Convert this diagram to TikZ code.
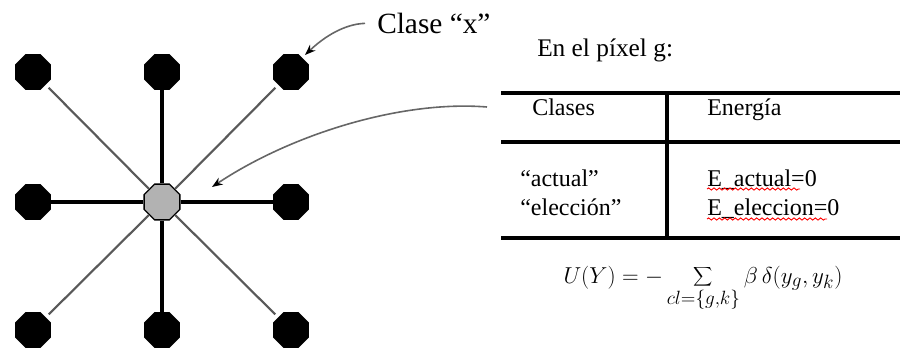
\documentclass[tikz,border=0pt]{standalone}
\usepackage{fontspec}
\setmainfont{Liberation Serif}
\usetikzlibrary{shapes.geometric,decorations.pathmorphing,arrows.meta}

\begin{document}
\begin{tikzpicture}[x=0.75pt,y=-0.75pt,
	site/.style={regular polygon, regular polygon sides=8, fill=black, inner sep=0pt, minimum size=29pt},
	link/.style={line width=2.4pt},
	diag/.style={line width=1.6pt, draw=black!65, shorten >=3pt},
	pointer/.style={line width=1.2pt, draw=black!60, -{Stealth[length=8pt,width=6pt,black]}},
	rule/.style={line width=2.4pt},
	txt/.style={anchor=base west, inner sep=0pt},
	squig/.style={red, decorate, decoration={snake, amplitude=0.8pt, segment length=4pt}, line width=0.7pt}]
	\useasboundingbox (0,0) rectangle (901,350);
	% neighbourhood of the pixel
	\node[site] (n11) at (33,72){};
	\node[site] (n12) at (162,72){};
	\node[site] (n13) at (291,72){};
	\node[site] (n21) at (33,202){};
	\node[site, fill=black!30, draw=black, line width=1pt] (c) at (162,202){};
	\node[site] (n23) at (291,202){};
	\node[site] (n31) at (33,330){};
	\node[site] (n32) at (162,330){};
	\node[site] (n33) at (291,330){};
	\draw[link] (c) -- (n12);
	\draw[link] (c) -- (n32);
	\draw[link] (c) -- (n21);
	\draw[link] (c) -- (n23);
	\draw[diag] (c) -- (n11);
	\draw[diag] (c) -- (n13);
	\draw[diag] (c) -- (n31);
	\draw[diag] (c) -- (n33);
	% labels and arrows
	\node[txt, font=\fontsize{22}{26}\selectfont] (clase) at (377,33){Clase ``x''};
	\coordinate (tipx) at (305,55);
	\draw[pointer, shorten <=9pt] (clase.west) .. controls (345,24) and (325,36) .. (tipx);
	\coordinate (src) at (487,107);
	\coordinate (tipg) at (212,187);
	\draw[pointer] (src) .. controls (400,100) and (290,135) .. (tipg);
	\node[txt, font=\fontsize{19}{22}\selectfont] (title) at (537,56){En el píxel g:};
	% table
	\draw[rule] (501,93) -- (900,93);
	\draw[rule] (501,142) -- (900,142);
	\draw[rule] (501,238) -- (900,238);
	\draw[rule] (667,93) -- (667,238);
	\begin{scope}[every node/.style={txt, font=\fontsize{18}{22}\selectfont}]
		\node (hclases) at (532,115){Clases};
		\node (henergia) at (707,115){Energía};
		\node (actual) at (520,186){``actual''};
		\node (eleccion) at (520,215){``elección''};
		\node (eactual) at (707,186){E\_actual=0};
		\node (eeleccion) at (707,215){E\_eleccion=0};
	\end{scope}
	\draw[squig] (707,189) -- (800,189);
	\draw[squig] (707,219) -- (827,219);
	% energy
	\node[anchor=base, inner sep=0pt, font=\fontsize{19}{24}\selectfont] (energy) at (703,283){$\displaystyle U(Y) = -\sum_{cl=\{g,k\}} \beta\,\delta(y_g, y_k)$};
\end{tikzpicture}
\end{document}
